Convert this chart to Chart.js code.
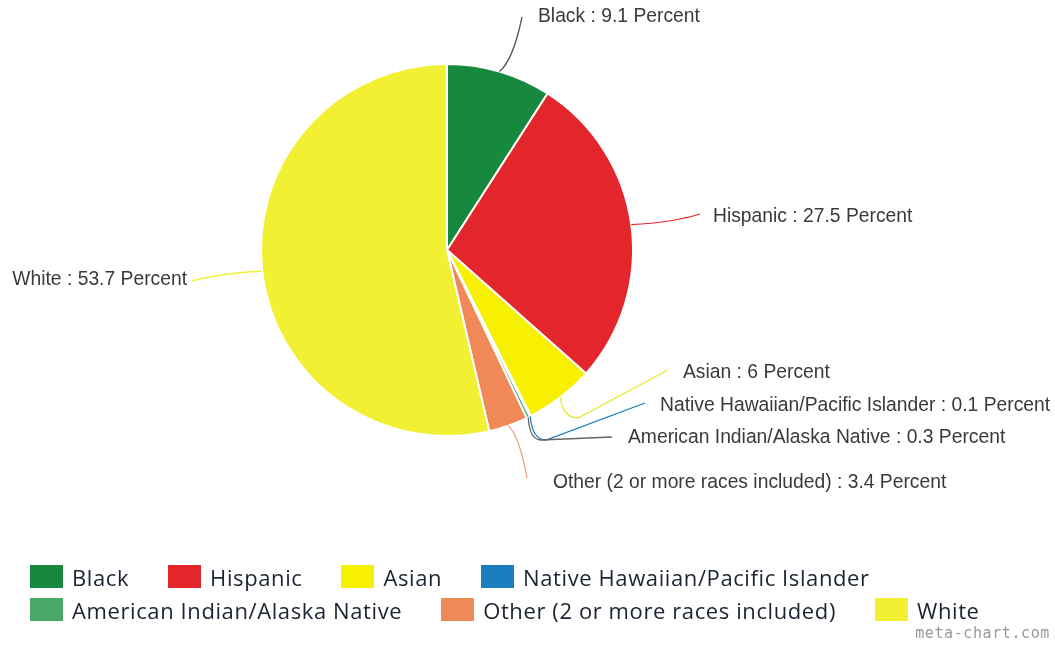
<!DOCTYPE html>
<html>
<head>
<meta charset="utf-8">
<script src="https://cdn.jsdelivr.net/npm/chart.js@4.4.1/dist/chart.umd.min.js"></script>
<style>
  html, body { margin: 0; padding: 0; background: #fff; }
  #wrap { position: relative; width: 1055px; height: 650px; overflow: hidden; }
  #pie { position: absolute; left: 0; top: 0; }
  #legend {
    position: absolute; left: 30px; top: 565px; width: 1010px;
    display: flex; flex-wrap: wrap; column-gap: 39px; row-gap: 10px;
    font-family: "Open Sans", sans-serif;
    font-size: 22px; letter-spacing: 0.6px; color: #1c2433;
  }
  .item { display: flex; align-items: center; height: 23px; }
  .box { width: 33px; height: 23px; margin-right: 9px; }
  #credit {
    position: absolute; right: 5px; top: 624px;
    font-family: "DejaVu Sans Mono", monospace; font-size: 15px; letter-spacing: 0.6px; color: #999;
  }
</style>
</head>
<body>
<div id="wrap">
  <canvas id="pie" width="1055" height="650"></canvas>
  <div id="legend"></div>
  <div id="credit">meta-chart.com</div>
</div>
<script>
const categories = ['Black', 'Hispanic', 'Asian', 'Native Hawaiian/Pacific Islander',
  'American Indian/Alaska Native', 'Other (2 or more races included)', 'White'];
const percents = [9.1, 27.5, 6, 0.1, 0.3, 3.4, 53.7];
const colors = ['#17893f', '#e3262b', '#f7f000', '#1b7fbf', '#4aa767', '#f08858', '#f2f032'];
const lineColors = ['#555555', '#e3262b', '#e8e830', '#1b7fbf', '#666666', '#f0a080', '#f2f032'];

// label layout: elbow point then text anchor, plus text side
const labelLayout = [
  { elbow: [522, 17], text: [538, 17], align: 'left' },
  { elbow: [700, 214], text: [713, 217], align: 'left' },
  { elbow: [572, 418], text: [683, 373], via: [668, 370], align: 'left' },
  { elbow: [540, 440], text: [660, 406], via: [645, 403], align: 'left' },
  { elbow: [535, 440], text: [628, 438], via: [612, 437], align: 'left' },
  { elbow: [527, 478], text: [553, 483], align: 'left' },
  { elbow: [192, 281], text: [187, 280], align: 'right' }
];

const leaderLabels = {
  id: 'leaderLabels',
  afterDatasetsDraw(chart) {
    const ctx = chart.ctx;
    const meta = chart.getDatasetMeta(0);
    ctx.save();
    ctx.font = '19.3px "Liberation Sans", Arial, sans-serif';
    ctx.textBaseline = 'middle';
    meta.data.forEach((arc, i) => {
      const p = arc.getProps(['x', 'y', 'startAngle', 'endAngle', 'outerRadius'], true);
      const mid = (p.startAngle + p.endAngle) / 2;
      const sx = p.x + Math.cos(mid) * p.outerRadius;
      const sy = p.y + Math.sin(mid) * p.outerRadius;
      const L = labelLayout[i];
      ctx.strokeStyle = lineColors[i];
      ctx.lineWidth = 1.3;
      ctx.beginPath();
      ctx.moveTo(sx, sy);
      if (L.via) {
        ctx.quadraticCurveTo(sx + (L.elbow[0] - sx) * 0.2, L.elbow[1], L.elbow[0] + 6, L.elbow[1]);
        ctx.lineTo(L.via[0], L.via[1]);
      } else {
        ctx.quadraticCurveTo(L.elbow[0] - (L.elbow[0] - sx) * 0.4, sy + (L.elbow[1] - sy) * 0.2, L.elbow[0], L.elbow[1]);
      }
      ctx.stroke();
      ctx.fillStyle = '#3a3a3a';
      ctx.textAlign = L.align;
      ctx.fillText(categories[i] + ' : ' + percents[i] + ' Percent', L.text[0], L.text[1]);
    });
    ctx.restore();
  }
};

new Chart(document.getElementById('pie'), {
  type: 'pie',
  data: {
    labels: categories,
    datasets: [{
      data: percents,
      backgroundColor: colors,
      borderColor: '#ffffff',
      borderWidth: 2
    }]
  },
  options: {
    responsive: false,
    animation: false,
    layout: { padding: { left: 260, right: 421, top: 62, bottom: 212 } },
    plugins: {
      legend: { display: false },
      tooltip: { enabled: false }
    }
  },
  plugins: [leaderLabels]
});

const legend = document.getElementById('legend');
categories.forEach((name, i) => {
  const item = document.createElement('div');
  item.className = 'item';
  const box = document.createElement('span');
  box.className = 'box';
  box.style.background = colors[i];
  const txt = document.createElement('span');
  txt.textContent = name;
  item.appendChild(box);
  item.appendChild(txt);
  legend.appendChild(item);
});
</script>
</body>
</html>
